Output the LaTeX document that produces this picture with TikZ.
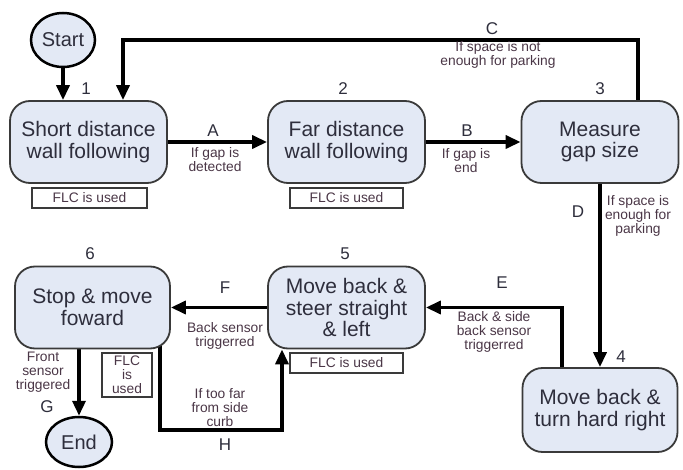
\documentclass[tikz,border=0pt]{standalone}
\usepackage{fontspec}
\setmainfont{Liberation Sans}
\usetikzlibrary{arrows.meta,backgrounds,shapes.geometric,calc}
\definecolor{boxfill}{HTML}{E3E9F5}
\definecolor{boxline}{HTML}{3A3A3A}
\definecolor{maintext}{HTML}{2E2E3C}
\definecolor{labeltext}{HTML}{4A3646}
\begin{document}
\begin{tikzpicture}[x=1pt,y=-1pt,
  state/.style={draw=boxline, line width=1.8pt, fill=boxfill, rounded corners=20pt,
    minimum width=157pt, minimum height=82pt, text=maintext,
    font=\fontsize{21}{21.5}\selectfont, align=center, inner sep=0pt},
  term/.style={ellipse, draw=black, line width=2.5pt, fill=boxfill, text=maintext,
    minimum width=64pt, minimum height=54pt, inner sep=0pt, font=\fontsize{20}{22}\selectfont},
  flc/.style={draw=boxline, line width=1.2pt, fill=white, text=labeltext,
    minimum width=115pt, minimum height=20pt, inner sep=0pt, align=center,
    font=\fontsize{13.8}{13.8}\selectfont},
  conn/.style={line width=3.5pt, -{Triangle[length=15pt,width=13pt]}},
  lbl/.style={text=labeltext, align=center, inner sep=0pt, font=\fontsize{13.8}{14}\selectfont},
  letter/.style={text=maintext, inner sep=0pt, font=\fontsize{17}{17}\selectfont},
  num/.style={text=maintext, inner sep=0pt, font=\fontsize{17}{17}\selectfont}]
\useasboundingbox (0,0) rectangle (683,470);
% states
\node[term] (start) at (63,40) {Start};
\node[state] (s1) at (88.5,142) {Short distance\\wall following};
\node[state] (s2) at (346.5,142) {Far distance\\wall following};
\node[state] (s3) at (600,142) {Measure\\gap size};
\node[state, minimum width=155pt, minimum height=84pt] (s4) at (600,410) {Move back \&\\turn hard right};
\node[state] (s5) at (346.5,307.5) {Move back \&\\steer straight\\\& left};
\node[state, minimum width=155pt] (s6) at (92.5,307.5) {Stop \& move\\foward};
\node[term, minimum width=66pt, minimum height=50pt] (end) at (79,442) {End};
% FLC boxes
\node[flc] (f1) at (89.5,198) {FLC is used};
\node[flc, minimum width=113pt] (f2) at (346.5,198) {FLC is used};
\node[flc, minimum width=113pt] (f5) at (346.5,363) {FLC is used};
\node[flc, minimum width=50pt, minimum height=44pt] (f6) at (127,375) {FLC\\is\\used};
% numbers
\node[num] (n1) at (86,89) {1};
\node[num] (n2) at (343,89) {2};
\node[num] (n3) at (600,89) {3};
\node[num] (n4) at (621,357) {4};
\node[num] (n5) at (345,254) {5};
\node[num] (n6) at (90,254) {6};
% bend points
\coordinate (cC) at (400,40);
\coordinate (cH) at (220,430);
% connectors
\begin{pgfonlayer}{background}
\draw[conn] (start.south) -- (start.south |- s1.north);
\draw[conn] ([xshift=38pt]s3.north) |- (cC) -| ([xshift=34.5pt]s1.north);
\draw[conn] (s1.east) -- (s2.west);
\draw[conn] (s2.east) -- (s3.west);
\draw[conn] (s3.south) -- (s4.north);
\draw[conn] ([xshift=-38pt]s4.north) |- (s5.east);
\draw[conn] (s5.west) -- (s6.east);
\draw[conn] (end.north |- s6.south) -- (end.north);
\draw[conn] ([xshift=67.5pt,yshift=6pt]s6.south) |- (cH) -| ([xshift=-64.5pt]s5.south);
\end{pgfonlayer}
% connector labels
\node[letter] (lA) at (213,131) {A};
\node[lbl] (tA) at (215,160) {If gap is\\detected};
\node[letter] (lB) at (467,131) {B};
\node[lbl] (tB) at (466,161) {If gap is\\end};
\node[letter] (lC) at (492,29) {C};
\node[lbl] (tC) at (498,55) {If space is not\\enough for parking};
\node[letter] (lD) at (578,212) {D};
\node[lbl] (tD) at (638,216) {If space is\\enough for\\parking};
\node[letter] (lE) at (502,283) {E};
\node[lbl] (tE) at (494,332) {Back \& side\\back sensor\\triggerred};
\node[letter] (lF) at (225,288) {F};
\node[lbl] (tF) at (225,336) {Back sensor\\triggerred};
\node[letter] (lG) at (47,407) {G};
\node[lbl] (tG) at (43,372) {Front\\sensor\\triggered};
\node[letter] (lH) at (225,445) {H};
\node[lbl] (tH) at (220,408) {If too far\\from side\\curb};
\end{tikzpicture}
\end{document}
